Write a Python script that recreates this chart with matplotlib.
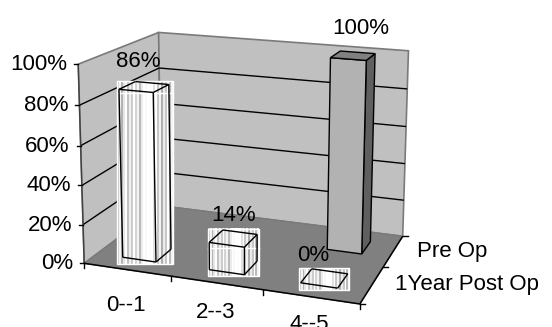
import numpy as np
import matplotlib
matplotlib.use("Agg")
import matplotlib.pyplot as plt
from matplotlib.patches import Polygon, Rectangle

categories = ["0--1", "2--3", "4--5"]
series_names = ["1Year Post Op", "Pre Op"]
post_op = [86, 14, 0]
pre_op = [0, 0, 100]
y_ticks = [0, 20, 40, 60, 80, 100]

plt.rcParams["font.family"] = ["Liberation Sans", "DejaVu Sans"]
FS = 16

W, H = 552, 327
fig = plt.figure(figsize=(W / 100, H / 100), dpi=100, facecolor="white")
ax = fig.add_axes([0, 0, 1, 1])
ax.set_axis_off()

# Camera: (category, series, value) anchors of the chart box on the canvas,
# solved as a 3x4 projective matrix.
anchors = [
    (0, 0, 0, 85, 264), (3, 0, 0, 360, 303), (3, 2, 0, 403, 237), (0, 2, 0, 160, 205),
    (0, 0, 100, 77, 64), (0, 2, 100, 160, 33), (3, 2, 100, 408, 50),
    (0, 0, 50, 81.5, 166), (0, 2, 50, 160, 120), (3, 2, 50, 405.5, 146),
]
rows, rhs = [], []
for u, v, w, x, y in anchors:
    w = w / 100
    rows.append([u, v, w, 1, 0, 0, 0, 0, -x * u, -x * v, -x * w]); rhs.append(x)
    rows.append([0, 0, 0, 0, u, v, w, 1, -y * u, -y * v, -y * w]); rhs.append(y)
cam = np.append(np.linalg.lstsq(np.array(rows, float), np.array(rhs, float), rcond=None)[0], 1).reshape(3, 4)


def proj(u, v, w):
    p = cam @ np.array([u, v, w / 100, 1.0])
    return p[0] / p[2], p[1] / p[2]


def poly(pts, **kw):
    ax.add_patch(Polygon([proj(*p) for p in pts], closed=True, **kw))


def seg(a, b, color="black", lw=1.0, zorder=2):
    pa, pb = proj(*a), proj(*b)
    ax.plot([pa[0], pb[0]], [pa[1], pb[1]], color=color, lw=lw, zorder=zorder, solid_capstyle="butt")


nu, nv = len(categories), len(series_names)
EDGE = "#7a7a7a"

# Walls and floor
poly([(0, 0, 0), (0, nv, 0), (0, nv, 100), (0, 0, 100)], facecolor="#c0c0c0", edgecolor=EDGE, lw=1.2, zorder=1)
poly([(0, nv, 0), (nu, nv, 0), (nu, nv, 100), (0, nv, 100)], facecolor="#c0c0c0", edgecolor=EDGE, lw=1.2, zorder=1)
poly([(0, 0, 0), (nu, 0, 0), (nu, nv, 0), (0, nv, 0)], facecolor="#808080", edgecolor=EDGE, lw=1.0, zorder=1.2)

# Gridlines on the two walls
for t in y_ticks[1:-1]:
    seg((0, 0, t), (0, nv, t), lw=1.0)
    seg((0, nv, t), (nu, nv, t), lw=1.0)
seg((0, 0, 0), (0, 0, 100), color="#404040", lw=1.0, zorder=2)
seg((0, 0, 0), (nu, 0, 0), lw=1.1, zorder=2.2)
seg((nu, 0, 0), (nu, nv, 0), lw=1.1, zorder=2.2)

# Value axis ticks and labels
for t in y_ticks:
    x, y = proj(0, 0, t)
    ax.plot([x - 4, x], [y, y], color="black", lw=1.0, zorder=2)
    ax.text(x - 11, y + 0.5, f"{t}%", ha="right", va="center", fontsize=FS, zorder=6)

# Category ticks and labels
for i in range(nu + 1):
    x, y = proj(i, 0, 0)
    ax.plot([x, x], [y, y + 5], color="black", lw=1.0, zorder=2)
cat_drop = [36, 30, 28]
for i, c in enumerate(categories):
    x, y = proj(i + 0.5, 0, 0)
    ax.text(x - 1, y + cat_drop[i], c, ha="center", va="center", fontsize=FS, zorder=6)

# Series ticks and labels
for j in range(nv + 1):
    x, y = proj(nu, j, 0)
    ax.plot([x, x + 5], [y, y], color="black", lw=1.0, zorder=2)
for j, s in enumerate(series_names):
    x, y = proj(nu, j + 0.5, 0)
    ax.text(x + 23.5, y, s, ha="left", va="center", fontsize=FS, zorder=6)

HU, HV = 0.195, 0.2
stripe = np.array([0.78, 0.95, 0.70, 0.90, 1.0, 0.76, 0.93, 0.80, 1.0, 0.83, 0.95, 0.73, 0.92, 1.0,
                   0.97, 1.0, 0.99, 1.0, 0.88, 1.0, 0.78, 0.95, 0.68, 0.92, 0.78, 1.0, 0.73, 0.95])


def box(i, j, h):
    u0, u1 = i + 0.5 - HU, i + 0.5 + HU
    v0, v1 = j + 0.5 - HV, j + 0.5 + HV
    return u0, u1, v0, v1, h


def solid_bar(i, j, h):
    u0, u1, v0, v1, h = box(i, j, h)
    kw = dict(edgecolor="black", lw=1.0, zorder=3)
    poly([(u1, v0, 0), (u1, v1, 0), (u1, v1, h), (u1, v0, h)], facecolor="#5f5f5f", **kw)
    poly([(u0, v0, 0), (u1, v0, 0), (u1, v0, h), (u0, v0, h)], facecolor="#b2b2b2", **kw)
    poly([(u0, v0, h), (u1, v0, h), (u1, v1, h), (u0, v1, h)], facecolor="#808080", **kw)


def striped_bar(i, j, h):
    u0, u1, v0, v1, h = box(i, j, h)
    corners = [proj(u, v, w) for u in (u0, u1) for v in (v0, v1) for w in (0, h)]
    xs, ys = zip(*corners)
    x0, x1, y0, y1 = min(xs) - 1.5, max(xs) + 1.5, min(ys) - 1, max(ys) + 1.5
    ax.imshow(stripe[np.newaxis, :], cmap="gray", vmin=0, vmax=1, aspect="auto",
              extent=(x0, x1, y1, y0), interpolation="nearest", zorder=3)
    ax.add_patch(Rectangle((x0, y0), x1 - x0, y1 - y0, fill=False, edgecolor="white", lw=1.0, zorder=3.1))
    if h > 0:
        yl = proj(u1, v0, h)[1] + 1
        ax.plot([x0, x1], [yl, yl], color="white", lw=1.0, zorder=3.1)
        for a, b in [((u0, v0, 0), (u1, v0, 0)), ((u1, v0, 0), (u1, v1, 0)),
                     ((u0, v0, 0), (u0, v0, h)), ((u1, v0, 0), (u1, v0, h)),
                     ((u1, v1, 0), (u1, v1, h))]:
            seg(a, b, lw=1.0, zorder=3.2)
    for a, b in [((u0, v0, h), (u1, v0, h)), ((u1, v0, h), (u1, v1, h)),
                 ((u1, v1, h), (u0, v1, h)), ((u0, v1, h), (u0, v0, h))]:
        seg(a, b, lw=1.0, zorder=3.2)


# Rear series first, then the front row
for i, val in enumerate(pre_op):
    if val > 0:
        solid_bar(i, 1, val)
        x, y = proj(i + 0.5, 1.5, val)
        ax.text(x + 8, y - 27, f"{val}%", ha="center", va="center", fontsize=FS, zorder=6)

label_shift = [(-6, -25), (0, -23), (-11, -23)]
for i, val in enumerate(post_op):
    striped_bar(i, 0, val)
    x, y = proj(i + 0.5, 0.5, val)
    ax.text(x + label_shift[i][0], y + label_shift[i][1], f"{val}%", ha="center", va="center", fontsize=FS, zorder=6)

ax.set_xlim(0, W)
ax.set_ylim(H, 0)
fig.savefig("out.png", dpi=100)
